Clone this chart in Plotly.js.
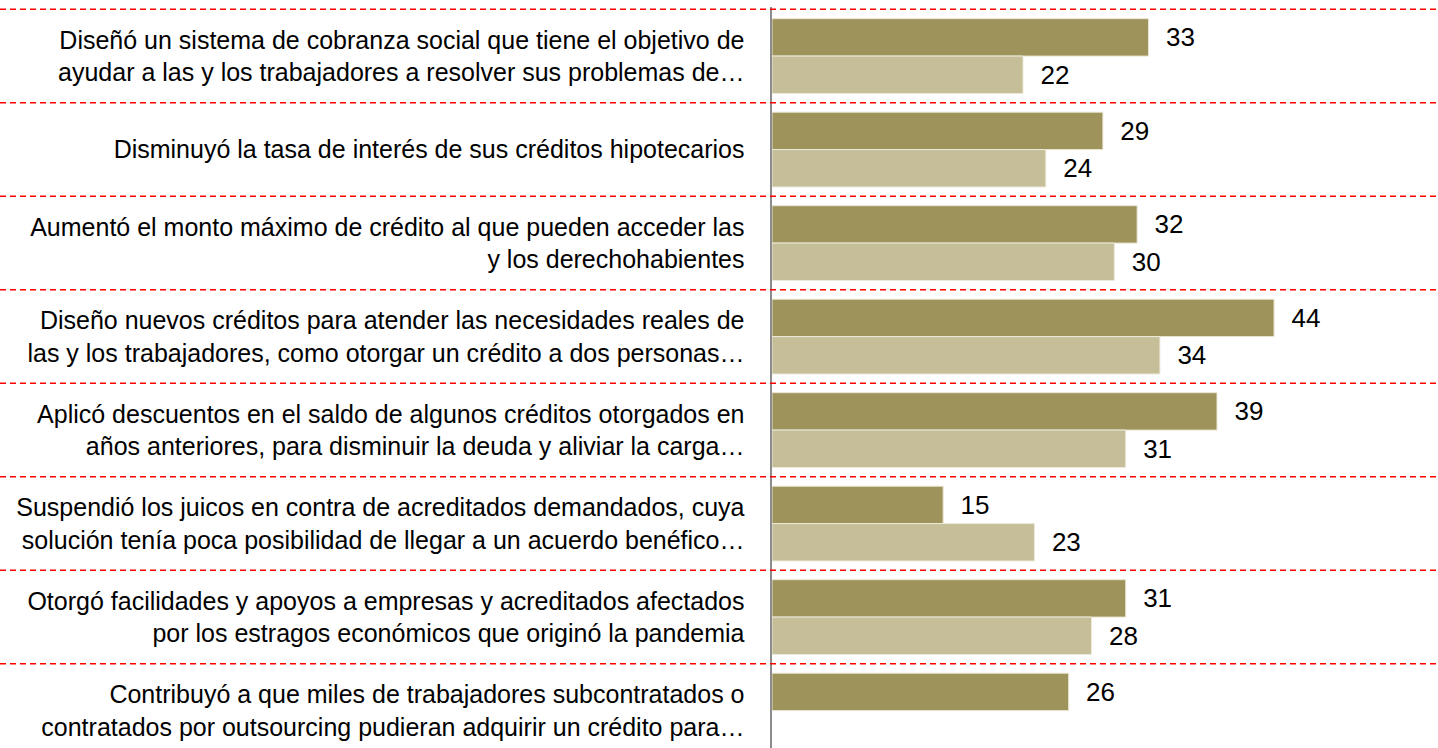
<!DOCTYPE html>
<html>
<head>
<meta charset="utf-8">
<script src="https://cdn.plot.ly/plotly-3.0.1.min.js"></script>
<style>html,body{margin:0;padding:0;background:#fff;}#chart{width:1438px;height:748px;}</style>
</head>
<body>
<div id="chart"></div>
<script>
const categories = [
  "Diseñó un sistema de cobranza social que tiene el objetivo de<br>ayudar a las y los trabajadores a resolver sus problemas de…",
  "Disminuyó la tasa de interés de sus créditos hipotecarios",
  "Aumentó el monto máximo de crédito al que pueden acceder las<br>y los derechohabientes",
  "Diseño nuevos créditos para atender las necesidades reales de<br>las y los trabajadores, como otorgar un crédito a dos personas…",
  "Aplicó descuentos en el saldo de algunos créditos otorgados en<br>años anteriores, para disminuir la deuda y aliviar la carga…",
  "Suspendió los juicos en contra de acreditados demandados, cuya<br>solución tenía poca posibilidad de llegar a un acuerdo benéfico…",
  "Otorgó facilidades y apoyos a empresas y acreditados afectados<br>por los estragos económicos que originó la pandemia",
  "Contribuyó a que miles de trabajadores subcontratados o<br>contratados por outsourcing pudieran adquirir un crédito para…"
];
const seriesA = [33, 29, 32, 44, 39, 15, 31, 26];
const seriesB = [22, 24, 30, 34, 31, 23, 28, null];

const W = 1438, L = 772;
const pxPerUnit = 11.41;
const rowPx = 93.5, topPx = 7;
const topExtra = 0.025;

const labelFont = {family: "Liberation Sans, Arial, sans-serif", size: 26, color: "#000"};

const traceA = {
  type: "bar", orientation: "h", name: "A",
  y: categories, x: seriesA,
  marker: {color: "#9f935c", line: {color: "#e9e5d2", width: 1}},
  text: seriesA.map(v => v == null ? "" : "\u00a0\u00a0" + v),
  textposition: "outside", textfont: labelFont, cliponaxis: false,
  hoverinfo: "x+y"
};
const traceB = {
  type: "bar", orientation: "h", name: "B",
  y: categories, x: seriesB,
  marker: {color: "#c5be98", line: {color: "#ece9da", width: 1}},
  text: seriesB.map(v => v == null ? "" : "\u00a0\u00a0" + v),
  textposition: "outside", textfont: labelFont, cliponaxis: false,
  hoverinfo: "x+y"
};

const plotH = 748 - topPx;
const shapes = categories.map((c, i) => ({
  type: "line", xref: "paper", yref: "y",
  x0: -L / (W - L), x1: 1, y0: i - 0.5, y1: i - 0.5,
  line: {color: "#ff0000", width: 1.5, dash: "6px,4px"}, layer: "above"
}));

const layout = {
  width: W, height: 748,
  margin: {l: L, r: 0, t: topPx, b: 0, pad: 0},
  paper_bgcolor: "#fff", plot_bgcolor: "#fff",
  showlegend: false,
  barmode: "group", bargap: 0.2, bargroupgap: 0,
  xaxis: {range: [0, (W - L) / pxPerUnit], visible: false, fixedrange: true},
  yaxis: {
    type: "category", categoryorder: "array", categoryarray: categories,
    range: [-0.5 - topExtra + plotH / rowPx, -0.5 - topExtra],
    showgrid: false, zeroline: false,
    showline: true, linecolor: "#8c8c8c", linewidth: 2.5,
    ticks: "", ticklabelstandoff: 20,
    tickfont: {family: "Liberation Sans, Arial, sans-serif", size: 25, color: "#000"},
    fixedrange: true
  },
  shapes: shapes
};

Plotly.newPlot("chart", [traceA, traceB], layout, {displayModeBar: false, staticPlot: true});
</script>
</body>
</html>
